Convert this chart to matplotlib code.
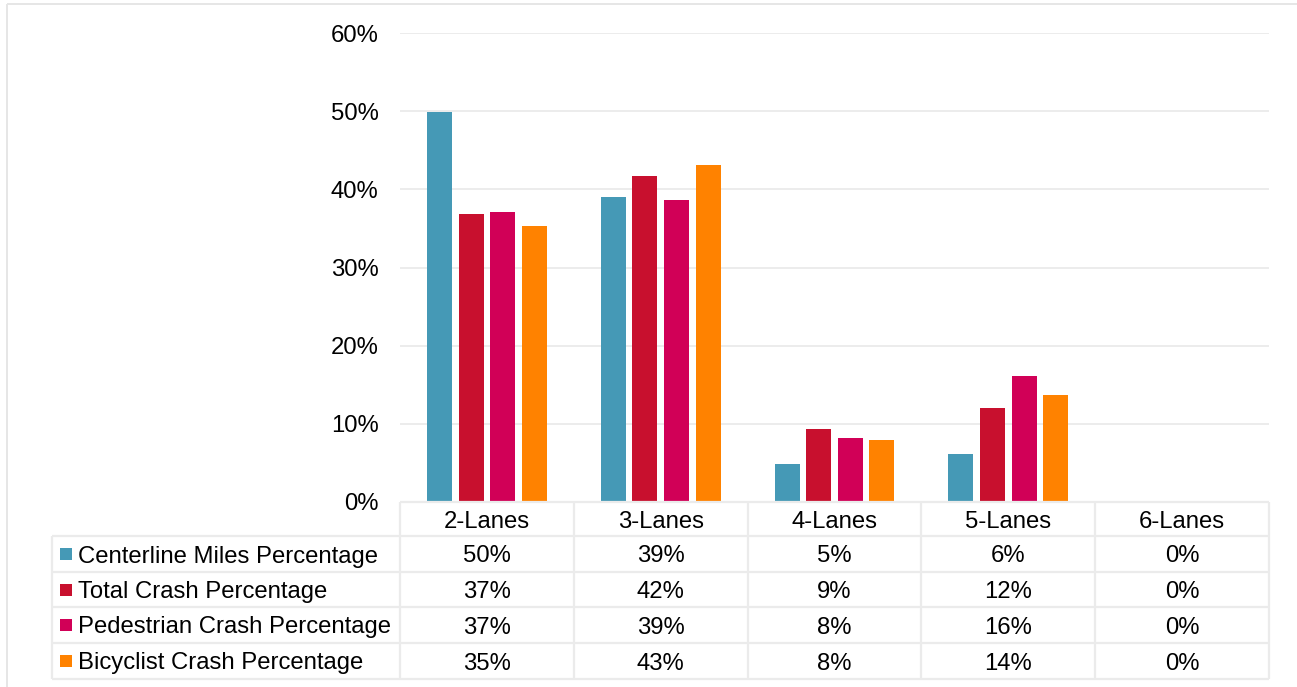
import matplotlib
matplotlib.use("Agg")
import matplotlib.pyplot as plt
from matplotlib.lines import Line2D
from matplotlib.patches import Rectangle

# Share of centerline miles and crashes by number of lanes (percent)
categories = ["2-Lanes", "3-Lanes", "4-Lanes", "5-Lanes", "6-Lanes"]
series_names = [
    "Centerline Miles Percentage",
    "Total Crash Percentage",
    "Pedestrian Crash Percentage",
    "Bicyclist Crash Percentage",
]
centerline_miles = [49.9, 39.0, 4.9, 6.1, 0.0]
total_crash = [36.8, 41.7, 9.3, 12.0, 0.0]
pedestrian_crash = [37.1, 38.6, 8.2, 16.1, 0.0]
bicyclist_crash = [35.3, 43.1, 7.9, 13.7, 0.0]
series_values = [centerline_miles, total_crash, pedestrian_crash, bicyclist_crash]
colors = ["#4599B6", "#C8102E", "#D10057", "#FF8200"]
y_ticks = [0, 10, 20, 30, 40, 50, 60]

W, H = 1297, 687
plt.rcParams["font.family"] = ["Liberation Sans", "DejaVu Sans"]
FS = 17.2
GRID = "#EBEBEB"
TXT = "#000000"

fig = plt.figure(figsize=(W / 100, H / 100), dpi=100)
fig.patch.set_facecolor("white")

# plot area in pixels
px_left, px_right, px_top, px_bottom = 400, 1269, 33, 502
ax = fig.add_axes([px_left / W, 1 - px_bottom / H,
                   (px_right - px_left) / W, (px_bottom - px_top) / H])
ax.set_xlim(-0.5, len(categories) - 0.5)
ax.set_ylim(0, 60)
for s in ax.spines.values():
    s.set_visible(False)
ax.set_xticks([])
ax.set_yticks(y_ticks)
ax.set_yticklabels([f"{t}%" for t in y_ticks], fontsize=FS, color=TXT)
ax.tick_params(axis="y", length=0, pad=15.5)
ax.yaxis.grid(True, color=GRID, linewidth=1.3)
ax.set_axisbelow(True)

step, bw = 0.1815, 0.144
for i, (vals, c) in enumerate(zip(series_values, colors)):
    xs = [k + (i - 1.5) * step for k in range(len(categories))]
    ax.bar(xs, vals, width=bw, color=c, edgecolor="none", zorder=3)

# overlay in pixel coordinates for the data table and frame
ov = fig.add_axes([0, 0, 1, 1], zorder=5)
ov.set_xlim(0, W)
ov.set_ylim(H, 0)
ov.axis("off")
ov.patch.set_alpha(0)

def line(x0, y0, x1, y1, lw=1.6, color=GRID):
    ov.add_line(Line2D([x0, x1], [y0, y1], color=color, linewidth=lw,
                       solid_capstyle="butt"))

# chart frame (top and left edges)
line(7, 4, W, 4, lw=1.4, color="#E6E6E6")
line(7, 4, 7, H, lw=1.4, color="#E6E6E6")

ncol = len(categories)
colw = (px_right - px_left) / ncol
row_edges = [502, 536, 572, 607, 643, 679]
tbl_left = 52

# horizontal lines
line(px_left, row_edges[0], px_right, row_edges[0])
for y in row_edges[1:]:
    line(tbl_left, y, px_right, y)
# vertical lines
line(tbl_left, row_edges[1], tbl_left, row_edges[-1])
for k in range(ncol + 1):
    x = px_left + k * colw
    line(x, row_edges[0], x, row_edges[-1])

# header row
hy = (row_edges[0] + row_edges[1]) / 2
for k, cat in enumerate(categories):
    ov.text(px_left + (k + 0.5) * colw, hy, cat, ha="center", va="center_baseline",
            fontsize=FS, color=TXT)

# data rows with legend keys
for r, (name, vals, c) in enumerate(zip(series_names, series_values, colors)):
    y0, y1 = row_edges[r + 1], row_edges[r + 2]
    yc = (y0 + y1) / 2
    ov.add_patch(Rectangle((60, yc - 6), 12, 12, color=c, linewidth=0))
    ov.text(78, yc, name, ha="left", va="center_baseline", fontsize=FS, color=TXT)
    for k, v in enumerate(vals):
        ov.text(px_left + (k + 0.5) * colw, yc, f"{v:.0f}%", ha="center",
                va="center_baseline", fontsize=FS, color=TXT)

fig.savefig("out.png", dpi=100, facecolor="white")
